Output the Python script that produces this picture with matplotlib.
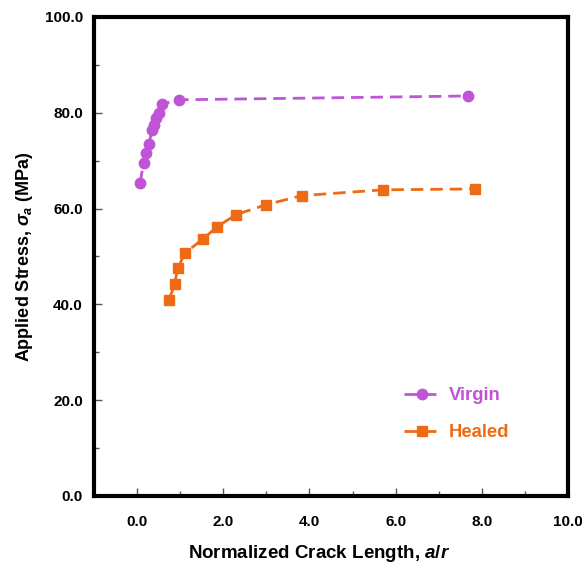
import matplotlib
matplotlib.use("Agg")
import matplotlib.pyplot as plt
from matplotlib.ticker import MultipleLocator, FormatStrFormatter

plt.rcParams['font.family'] = ['Liberation Sans', 'DejaVu Sans']
plt.rcParams['mathtext.fontset'] = 'custom'
plt.rcParams['mathtext.it'] = 'Liberation Sans:italic:bold'
plt.rcParams['mathtext.rm'] = 'Liberation Sans:bold'

# crack length (a/r) vs applied stress (MPa)
virgin_x = [0.07, 0.15, 0.21, 0.28, 0.34, 0.39, 0.45, 0.51, 0.57, 0.98, 7.69]
virgin_y = [65.3, 69.6, 71.6, 73.5, 76.3, 77.5, 78.9, 79.9, 81.8, 82.7, 83.5]

healed_x = [0.74, 0.87, 0.94, 1.11, 1.52, 1.86, 2.29, 2.99, 3.82, 5.70, 7.84]
healed_y = [40.9, 44.2, 47.5, 50.7, 53.6, 56.2, 58.7, 60.8, 62.7, 63.9, 64.1]

purple = '#BF55D6'
orange = '#EE6A14'

fig = plt.figure(figsize=(5.82, 5.64), dpi=100)
ax = fig.add_axes([0.1615, 0.1206, 0.8145, 0.8494])

ax.plot(virgin_x, virgin_y, color=purple, ls='--', lw=2, marker='o', ms=7.5,
        dashes=(4.5, 2.5), label='Virgin')
ax.plot(healed_x, healed_y, color=orange, ls='--', lw=2, marker='s', ms=7.5,
        dashes=(4.5, 2.5), label='Healed')

ax.set_xlim(-1, 10)
ax.set_ylim(0, 100)
ax.xaxis.set_major_locator(MultipleLocator(2))
ax.xaxis.set_minor_locator(MultipleLocator(1))
ax.yaxis.set_major_locator(MultipleLocator(20))
ax.yaxis.set_minor_locator(MultipleLocator(10))
ax.xaxis.set_major_formatter(FormatStrFormatter('%.1f'))
ax.yaxis.set_major_formatter(FormatStrFormatter('%.1f'))

ax.tick_params(which='major', direction='in', length=6, width=1, color='#555555',
               labelsize=11, pad=14)
ax.tick_params(which='minor', direction='in', length=3.5, width=1, color='#555555')
for lab in ax.get_xticklabels() + ax.get_yticklabels():
    lab.set_fontweight('bold')
ax.tick_params(axis='y', pad=8)

for s in ax.spines.values():
    s.set_linewidth(3)

ax.set_xlabel('Normalized Crack Length, $\\mathit{a/r}$', fontsize=13.5,
              fontweight='bold')
ax.xaxis.set_label_coords(0.475, -0.098)
ax.set_ylabel('Applied Stress, $\\mathit{\\sigma}_{\\mathit{a}}$ (MPa)', fontsize=13,
              fontweight='bold', labelpad=7)

leg = ax.legend(loc='upper left', bbox_to_anchor=(0.618, 0.262), frameon=False,
                labelcolor='linecolor', handlelength=2.0, handletextpad=0.45,
                labelspacing=1.1, prop={'weight': 'bold', 'size': 13.3})

fig.savefig('out.png', dpi=100)
